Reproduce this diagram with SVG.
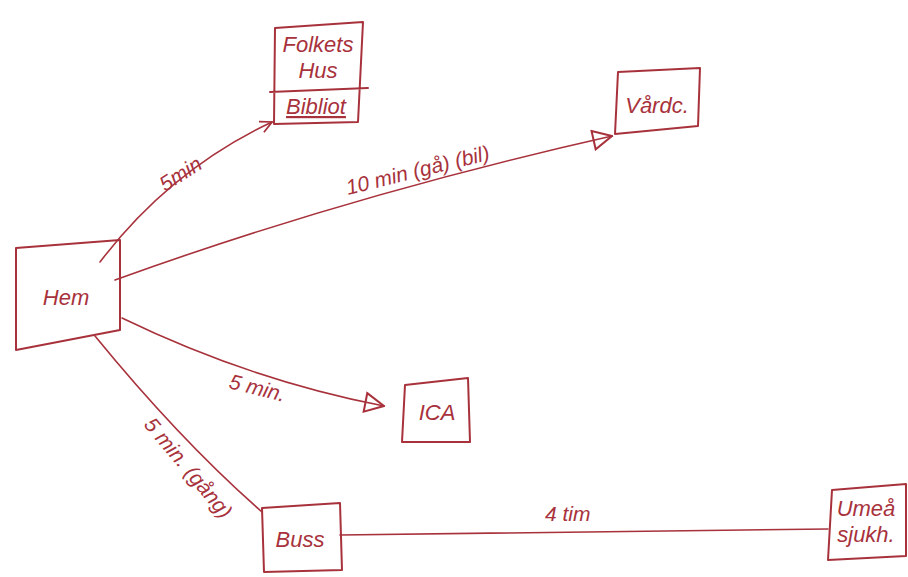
<svg xmlns="http://www.w3.org/2000/svg" width="908" height="577" viewBox="0 0 908 577">
  <style>
    .box { fill: none; stroke: #a8323c; stroke-width: 2; stroke-linecap: round; stroke-linejoin: round; }
    .edge { fill: none; stroke: #a8323c; stroke-width: 1.6; stroke-linecap: round; }
    .lbl { font-family: "Liberation Sans", Arial, sans-serif; font-style: italic; fill: #a8323c; }
    .node { font-size: 22px; }
    .edgelbl { font-size: 21px; }
  </style>
  <defs>
    <marker id="open" viewBox="0 0 12 12" refX="11" refY="6" markerWidth="14" markerHeight="14" markerUnits="userSpaceOnUse" orient="auto">
      <path d="M1,1 L11,6 L1,11" fill="none" stroke="#a8323c" stroke-width="1.5"/>
    </marker>
    <marker id="tri" viewBox="0 0 14 14" refX="13" refY="7" markerWidth="22" markerHeight="22" markerUnits="userSpaceOnUse" orient="auto">
      <path d="M1,1 L13,7 L1,13 Z" fill="none" stroke="#a8323c" stroke-width="1.3"/>
    </marker>
  </defs>

  <rect width="908" height="577" fill="#ffffff"/>

  <g id="connectors">
    <path class="edge" d="M100,262 Q170,170 272,122" marker-end="url(#open)"/>
    <path class="edge" d="M115,280 Q350,195 612,136" marker-end="url(#tri)"/>
    <path class="edge" d="M122,318 Q250,380 384,406" marker-end="url(#tri)"/>
    <path class="edge" d="M95,336 Q180,440 262,512"/>
    <path class="edge" d="M340,535 L828,529"/>
    <text class="lbl edgelbl" transform="translate(165,192) rotate(-32)">5min</text>
    <text class="lbl edgelbl" transform="translate(348,195) rotate(-14)">10 min (gå) (bil)</text>
    <text class="lbl edgelbl" transform="translate(228,388) rotate(14)">5 min.</text>
    <text class="lbl edgelbl" transform="translate(143,425) rotate(50)">5 min. (gång)</text>
    <text class="lbl edgelbl" x="545" y="521">4 tim</text>
  </g>

  <g id="hem">
    <path class="box" d="M16,248 L120,240 L120,330 L16,350 Z"/>
    <text class="lbl node" x="66" y="305" text-anchor="middle">Hem</text>
  </g>

  <g id="folkets-hus">
    <path class="box" d="M275,28 L363,22 L358,122 L274,124 Z M270,92 L368,88"/>
    <text class="lbl node" x="318" y="52" text-anchor="middle" font-size="17">Folkets</text>
    <text class="lbl node" x="318" y="78" text-anchor="middle" font-size="17">Hus</text>
    <text class="lbl node" x="316" y="114" text-anchor="middle" font-size="17" text-decoration="underline">Bibliot</text>
  </g>

  <g id="vardc">
    <path class="box" d="M618,72 L700,68 L698,126 L615,134 Z"/>
    <text class="lbl node" x="657" y="113" text-anchor="middle" font-size="19">Vårdc.</text>
  </g>

  <g id="ica">
    <path class="box" d="M405,385 L468,378 L470,442 L402,442 Z"/>
    <text class="lbl node" x="437" y="420" text-anchor="middle">ICA</text>
  </g>

  <g id="buss">
    <path class="box" d="M262,508 L340,503 L342,570 L264,572 Z"/>
    <text class="lbl node" x="300" y="547" text-anchor="middle" font-size="19">Buss</text>
  </g>

  <g id="umea">
    <path class="box" d="M832,490 L906,484 L906,556 L828,560 Z"/>
    <text class="lbl node" x="866" y="516" text-anchor="middle" font-size="17">Umeå</text>
    <text class="lbl node" x="866" y="542" text-anchor="middle" font-size="17">sjukh.</text>
  </g>
</svg>
